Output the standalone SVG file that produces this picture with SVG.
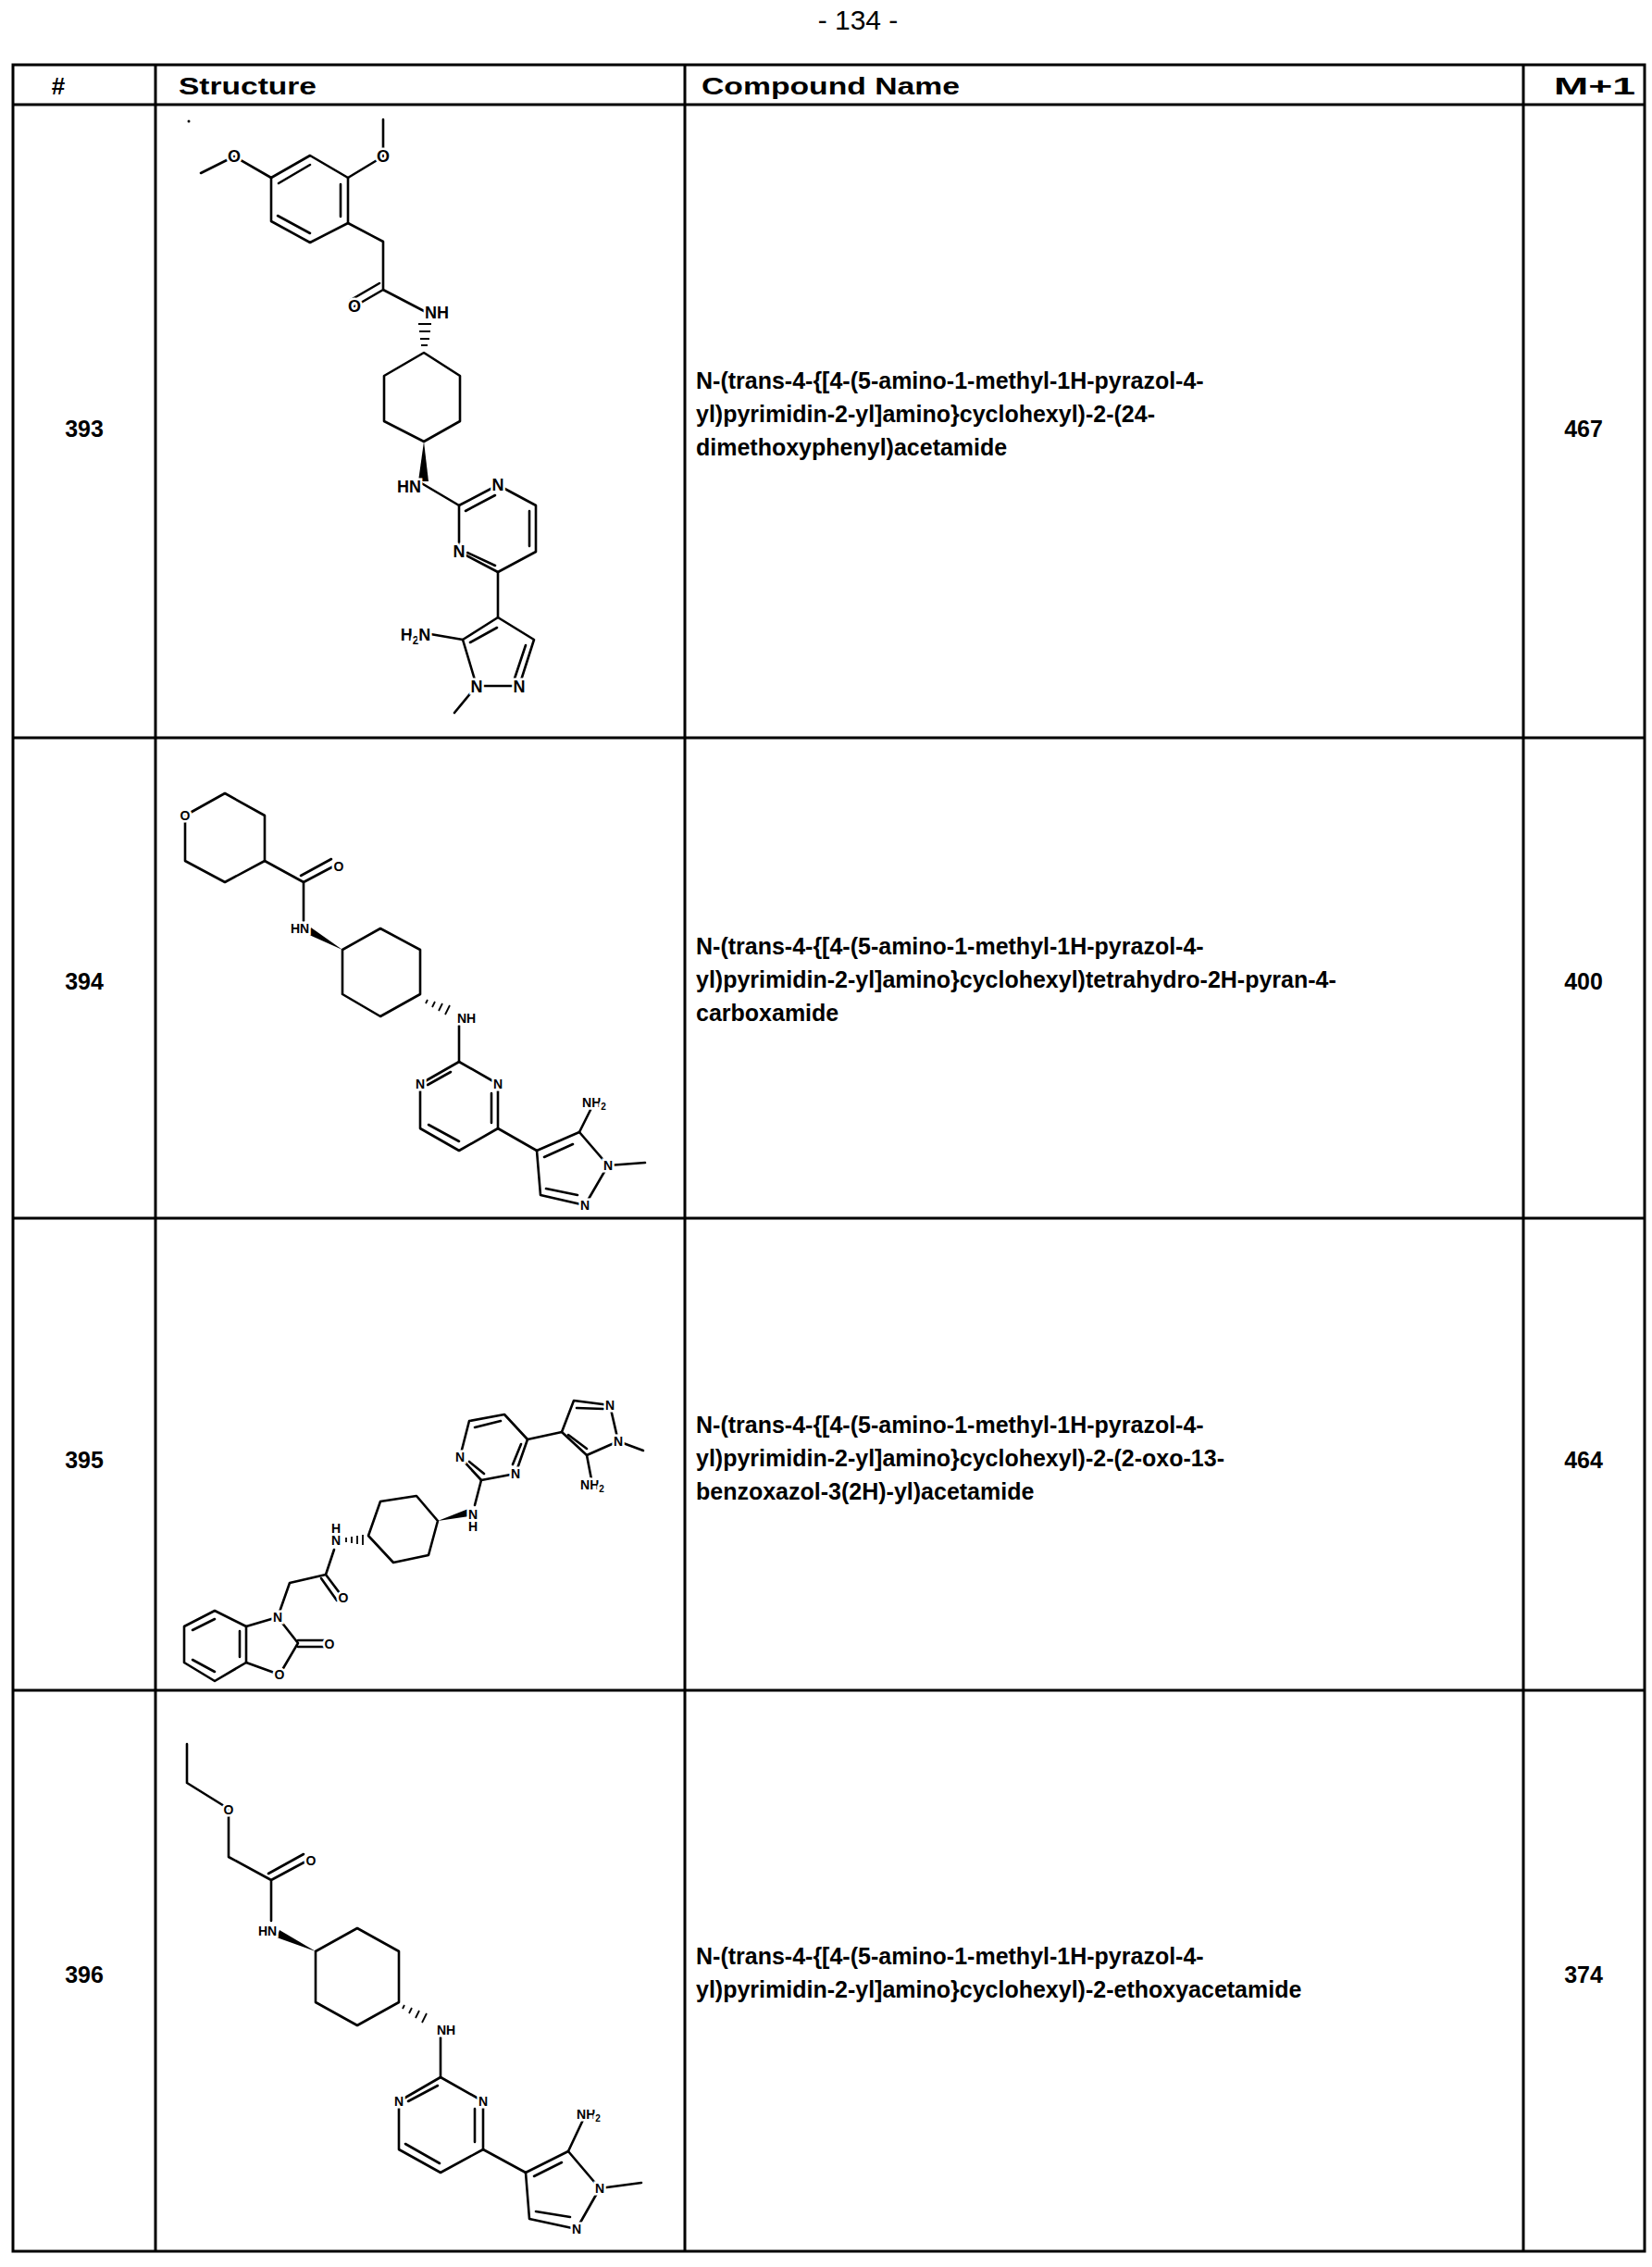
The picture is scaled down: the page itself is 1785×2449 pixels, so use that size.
<svg xmlns="http://www.w3.org/2000/svg" width="1785" height="2449" viewBox="0 0 1785 2449">
<style>
.t{font-family:"Liberation Sans",Arial,sans-serif;fill:#000}
.h{font-weight:bold;font-size:26px}
.n{font-size:25px;font-weight:bold}
.num{font-weight:bold;font-size:25px}
.grid{stroke:#000;stroke-width:3;fill:none}
.b{stroke:#000;stroke-width:2.6;fill:none;stroke-linecap:round;stroke-linejoin:round}
.a{font-family:"Liberation Sans",Arial,sans-serif;font-weight:bold;fill:#000;stroke:#fff;stroke-width:5;paint-order:stroke;text-anchor:middle}
.a1{font-size:18px}
.a2{font-size:14px}
</style>
<rect width="1785" height="2449" fill="#fff"/>
<text class="t" x="927" y="32" font-size="30" text-anchor="middle">- 134 -</text>
<g id="table" class="grid">
<rect x="14" y="70" width="1763" height="2362"/>
<line x1="14" y1="113" x2="1777" y2="113"/>
<line x1="14" y1="797" x2="1777" y2="797"/>
<line x1="14" y1="1316" x2="1777" y2="1316"/>
<line x1="14" y1="1826" x2="1777" y2="1826"/>
<line x1="168" y1="70" x2="168" y2="2432"/>
<line x1="740" y1="70" x2="740" y2="2432"/>
<line x1="1646" y1="70" x2="1646" y2="2432"/>
</g>
<g id="header">
<text class="t h" x="63" y="102" text-anchor="middle">#</text>
<text class="t h" x="193" y="102" textLength="149" lengthAdjust="spacingAndGlyphs">Structure</text>
<text class="t h" x="758" y="102" textLength="279" lengthAdjust="spacingAndGlyphs">Compound Name</text>
<text class="t h" x="1679" y="102" textLength="88" lengthAdjust="spacingAndGlyphs">M+1</text>
</g>
<g id="row393">
<text class="t num" x="91" y="472" text-anchor="middle">393</text>
<text class="t n" x="752" y="420">N-(trans-4-{[4-(5-amino-1-methyl-1H-pyrazol-4-</text>
<text class="t n" x="752" y="456">yl)pyrimidin-2-yl]amino}cyclohexyl)-2-(24-</text>
<text class="t n" x="752" y="492">dimethoxyphenyl)acetamide</text>
<text class="t num" x="1711" y="472" text-anchor="middle">467</text>
<circle cx="204" cy="131" r="1.5" fill="#000"/>
<g class="b">
<path d="M217,187 L253,169 L293,192"/>
<path d="M293,192 L335,168 L376,192 L376,241 L335,262 L293,239 Z"/>
<path d="M301,198 L335,178 M368,199 L368,234 M335,252 L300,233"/>
<path d="M376,192 L414,169 L414,129"/>
<path d="M376,241 L414,261 L414,313 L383,331 M410,306 L379,324 M414,313 L460,337"/>
<path d="M458,381 L497,406 L497,455 L458,477 L415,455 L415,406 Z"/>
<path d="M452,520 L496,546"/>
<path d="M496,546 L538,524 L579,546 L579,596 L538,618 L496,596 Z"/>
<path d="M503,552 L535,535 M572,552 L572,590 M505,597 L535,611"/>
<path d="M538,618 L538,667"/>
<path d="M538,667 L577,691 L561,741 L515,741 L500,691 Z"/>
<path d="M537,678 L508,694 M568,697 L556,733"/>
<path d="M500,691 L465,685 M515,741 L491,770"/>
</g>
<g stroke="#000" stroke-width="2">
<path d="M452,350 L466,350 M453,358 L465,358 M454,366 L464,366 M455,373 L462,373"/>
</g>
<polygon points="458,477 452,520 463,520" fill="#000"/>
<text class="a a1" x="472" y="344">NH</text>
<text class="a a1" x="442" y="532">HN</text>
<text class="a a1" x="538" y="530">N</text>
<text class="a a1" x="496" y="602">N</text>
<text class="a a1" x="449" y="692">H<tspan font-size="12" dy="4">2</tspan><tspan dy="-4">N</tspan></text>
<text class="a a1" x="515" y="748">N</text>
<text class="a a1" x="561" y="748">N</text>
<text class="a a1" x="253" y="175">O</text>
<text class="a a1" x="414" y="175">O</text>
<text class="a a1" x="383" y="337">O</text>
</g>
<g id="row394">
<text class="t num" x="91" y="1069" text-anchor="middle">394</text>
<text class="t n" x="752" y="1031">N-(trans-4-{[4-(5-amino-1-methyl-1H-pyrazol-4-</text>
<text class="t n" x="752" y="1067">yl)pyrimidin-2-yl]amino}cyclohexyl)tetrahydro-2H-pyran-4-</text>
<text class="t n" x="752" y="1103">carboxamide</text>
<text class="t num" x="1711" y="1069" text-anchor="middle">400</text>
<g class="b">
<path d="M200,881 L243,857 L286,881 L286,930 L243,953 L200,930 Z"/>
<path d="M286,930 L328,953 L362,935 M325,946 L358,928 M328,953 L328,995"/>
<path d="M370,1026 L411,1003 L454,1026 L454,1074 L411,1098 L370,1074 Z"/>
<path d="M496,1108 L496,1147"/>
<path d="M496,1147 L538,1171 L538,1219 L496,1243 L454,1219 L454,1171 Z"/>
<path d="M487,1158 L462,1172 M531,1181 L531,1213 M463,1215 L496,1233"/>
<path d="M538,1219 L580,1243"/>
<path d="M580,1243 L626,1223 L657,1259 L632,1302 L584,1291 Z"/>
<path d="M588,1250 L619,1236 M590,1284 L624,1291"/>
<path d="M626,1223 L640,1195 M657,1259 L697,1256"/>
</g>
<polygon points="370,1026 336,1002 332,1009" fill="#000"/>
<g stroke="#000" stroke-width="1.8">
<path d="M462,1080 L460,1084 M470,1082 L467,1088 M478,1084 L474,1092 M486,1086 L481,1096"/>
</g>
<text class="a a2" x="200" y="886">O</text>
<text class="a a2" x="366" y="941">O</text>
<text class="a a2" x="324" y="1008">HN</text>
<text class="a a2" x="504" y="1105">NH</text>
<text class="a a2" x="454" y="1176">N</text>
<text class="a a2" x="538" y="1176">N</text>
<text class="a a2" x="642" y="1196">NH<tspan font-size="10" dy="3">2</tspan></text>
<text class="a a2" x="657" y="1264">N</text>
<text class="a a2" x="632" y="1307">N</text>
</g>
<g id="row395">
<text class="t num" x="91" y="1586" text-anchor="middle">395</text>
<text class="t n" x="752" y="1548">N-(trans-4-{[4-(5-amino-1-methyl-1H-pyrazol-4-</text>
<text class="t n" x="752" y="1584">yl)pyrimidin-2-yl]amino}cyclohexyl)-2-(2-oxo-13-</text>
<text class="t n" x="752" y="1620">benzoxazol-3(2H)-yl)acetamide</text>
<text class="t num" x="1711" y="1586" text-anchor="middle">464</text>
<g class="b">
<path d="M232,1740 L266,1757 L266,1796 L232,1816 L199,1796 L199,1757 Z"/>
<path d="M208,1761 L232,1749 M259,1762 L259,1790 M208,1793 L232,1806"/>
<path d="M266,1757 L300,1747 L322,1775 L302,1809 L266,1796"/>
<path d="M322,1772 L350,1772 M322,1779 L350,1779"/>
<path d="M300,1747 L313,1710 L352,1701 L370,1725 M347,1705 L364,1729 M352,1701 L361,1674"/>
<path d="M398,1659 L411,1622 L450,1616 L473,1643 L463,1680 L425,1688 Z"/>
<path d="M513,1626 L520,1599"/>
<path d="M520,1599 L557,1592 L570,1555 L545,1528 L507,1535 L497,1574 Z"/>
<path d="M507,1579 L523,1592 M554,1582 L563,1560 M513,1542 L541,1535"/>
<path d="M570,1555 L607,1547"/>
<path d="M607,1547 L620,1513 L659,1518 L668,1557 L634,1572 Z"/>
<path d="M623,1521 L652,1522 M614,1550 L634,1565"/>
<path d="M634,1572 L639,1598 M668,1557 L695,1567"/>
</g>
<polygon points="473,1643 506,1630 507,1638" fill="#000"/>
<g stroke="#000" stroke-width="1.8">
<path d="M374,1661 L374,1666 M380,1660 L380,1667 M386,1659 L386,1668 M392,1658 L392,1669"/>
</g>
<text class="a a2" x="300" y="1752">N</text>
<text class="a a2" x="356" y="1781">O</text>
<text class="a a2" x="302" y="1814">O</text>
<text class="a a2" x="371" y="1731">O</text>
<text class="a a2" x="363" y="1656">H</text>
<text class="a a2" x="363" y="1669">N</text>
<text class="a a2" x="511" y="1641">N</text>
<text class="a a2" x="511" y="1654">H</text>
<text class="a a2" x="557" y="1597">N</text>
<text class="a a2" x="497" y="1579">N</text>
<text class="a a2" x="659" y="1523">N</text>
<text class="a a2" x="668" y="1562">N</text>
<text class="a a2" x="640" y="1609">NH<tspan font-size="10" dy="3">2</tspan></text>
</g>
<g id="row396">
<text class="t num" x="91" y="2142" text-anchor="middle">396</text>
<text class="t n" x="752" y="2122">N-(trans-4-{[4-(5-amino-1-methyl-1H-pyrazol-4-</text>
<text class="t n" x="752" y="2158">yl)pyrimidin-2-yl]amino}cyclohexyl)-2-ethoxyacetamide</text>
<text class="t num" x="1711" y="2142" text-anchor="middle">374</text>
<g class="b">
<path d="M202,1884 L202,1926 L247,1954 L247,2006 L293,2031 L332,2010 M290,2024 L328,2003 M293,2031 L293,2075"/>
<path d="M341,2108 L386,2083 L431,2108 L431,2163 L386,2188 L341,2163 Z"/>
<path d="M476,2201 L476,2244"/>
<path d="M476,2244 L522,2270 L522,2322 L476,2347 L431,2322 L431,2270 Z"/>
<path d="M441,2270 L473,2253 M513,2278 L513,2314 M438,2316 L475,2337"/>
<path d="M522,2322 L568,2347"/>
<path d="M568,2347 L614,2324 L648,2364 L623,2408 L572,2397 Z"/>
<path d="M577,2351 L607,2336 M579,2389 L616,2395"/>
<path d="M614,2324 L630,2290 M648,2364 L693,2358"/>
</g>
<polygon points="341,2108 302,2085 299,2093" fill="#000"/>
<g stroke="#000" stroke-width="1.8">
<path d="M437,2166 L435,2170 M445,2169 L442,2175 M453,2172 L449,2180 M461,2175 L456,2185"/>
</g>
<text class="a a2" x="247" y="1960">O</text>
<text class="a a2" x="336" y="2015">O</text>
<text class="a a2" x="289" y="2091">HN</text>
<text class="a a2" x="482" y="2198">NH</text>
<text class="a a2" x="431" y="2275">N</text>
<text class="a a2" x="522" y="2275">N</text>
<text class="a a2" x="636" y="2289">NH<tspan font-size="10" dy="3">2</tspan></text>
<text class="a a2" x="648" y="2369">N</text>
<text class="a a2" x="623" y="2413">N</text>
</g>
</svg>
